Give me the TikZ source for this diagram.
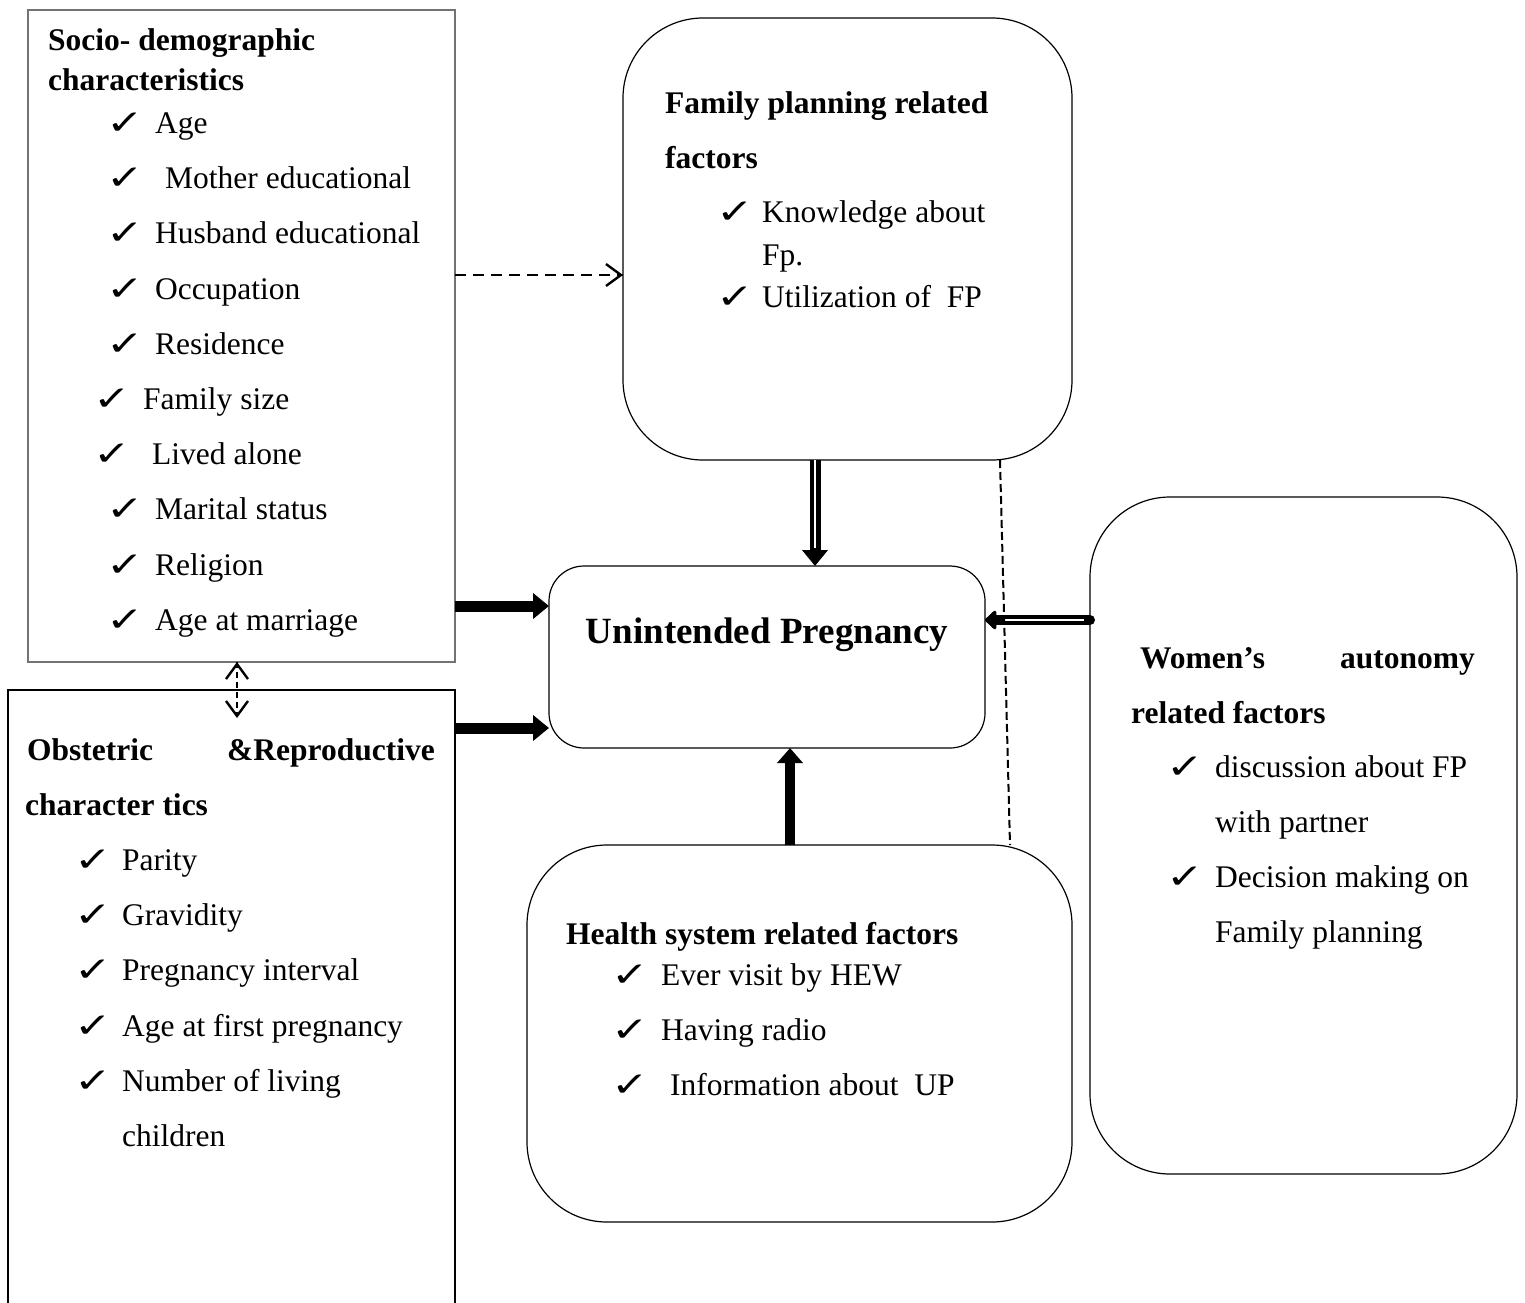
\documentclass[tikz,border=0pt]{standalone}
\usepackage{fontspec}
\setmainfont{Liberation Serif}
\newfontfamily\dejavu{DejaVu Sans}
\usetikzlibrary{arrows.meta,calc}
\tikzset{
  box/.style={draw=black, line width=1.2pt, inner sep=0pt, outer sep=0pt, anchor=north west},
  graybox/.style={box, draw=black!55},
  rbox/.style={box, rounded corners=80pt},
  txt/.style={anchor=base west, inner sep=0pt, font=\fontsize{31.5}{38}\selectfont},
  txte/.style={txt, anchor=base east},
  hd/.style={txt, font=\fontsize{31.5}{38}\selectfont\bfseries},
  hde/.style={hd, anchor=base east},
  ckm/.style={anchor=base west, inner sep=0pt, yshift=-1pt, font=\dejavu\fontsize{36}{42}\selectfont},
  thick arrow/.style={line width=11pt, -{Triangle[length=16pt,width=25pt]}},
  barb/.style={solid, line width=2.4pt, -{Straight Barb[length=15pt,width=22pt,line width=2.4pt]}},
}
\newcommand\itm[5]{\node[ckm] (#1c) at (#2-4,#4) {\scalebox{1.25}[0.95]{✓}}; \node[txt] (#1) at (#3,#4) {#5};}
\begin{document}
\begin{tikzpicture}[x=1pt,y=-1pt]
\clip (0,0) rectangle (1525,1302);
\fill[white] (0,0) rectangle (1525,1302);
% boxes
\node[graybox, minimum width=427pt, minimum height=652pt] (socio) at (28,10) {};
\node[box, minimum width=447pt, minimum height=700pt] (obst) at (8,690) {};
\node[rbox, minimum width=449pt, minimum height=442pt] (fp) at (623,18) {};
\node[box, rounded corners=35pt, minimum width=436pt, minimum height=182pt] (unint) at (549,566) {};
\node[rbox, minimum width=545pt, minimum height=377pt] (health) at (527,845) {};
\node[rbox, minimum width=427pt, minimum height=677pt] (women) at (1090,497) {};
% socio text
\node[hd] (s1) at (48,50) {Socio- demographic};
\node[hd] (s2) at (48,90) {characteristics};
\itm{a1}{110}{155}{133}{Age}
\itm{a2}{110}{165}{188}{Mother educational}
\itm{a3}{110}{155}{243}{Husband educational}
\itm{a4}{110}{155}{299}{Occupation}
\itm{a5}{110}{155}{354}{Residence}
\itm{a6}{97}{143}{409}{Family size}
\itm{a7}{97}{152}{464}{Lived alone}
\itm{a8}{110}{155}{519}{Marital status}
\itm{a9}{110}{155}{575}{Religion}
\itm{a10}{110}{155}{630}{Age at marriage}
% obstetric text
\node[hd] (o1) at (27,760) {Obstetric};
\node[hde] (o2) at (435,760) {\&Reproductive};
\node[hd] (o3) at (25,815) {character tics};
\itm{b1}{78}{122}{870}{Parity}
\itm{b2}{78}{122}{925}{Gravidity}
\itm{b3}{78}{122}{980}{Pregnancy interval}
\itm{b4}{78}{122}{1036}{Age at first pregnancy}
\itm{b5}{78}{122}{1091}{Number of living}
\node[txt] (b6) at (122,1146) {children};
% family planning text
\node[hd] (f1) at (665,113) {Family planning related};
\node[hd] (f2) at (665,168) {factors};
\itm{c1}{720}{762}{222}{Knowledge about}
\node[txt] (c2) at (762,265) {Fp.};
\itm{c3}{720}{762}{307}{Utilization of~ FP}
% unintended
\node[inner sep=0pt, font=\fontsize{37}{44}\selectfont\bfseries] (ut) at (767,635) {Unintended Pregnancy};
% health
\node[hd] (h1) at (566,944) {Health system related factors};
\itm{d1}{615}{661}{985}{Ever visit by HEW}
\itm{d2}{615}{661}{1040}{Having radio}
\itm{d3}{615}{670}{1095}{Information about~ UP}
% women
\node[hd] (w1) at (1140,668) {Women’s};
\node[hde] (w2) at (1475,668) {autonomy};
\node[hd] (w3) at (1131,723) {related factors};
\itm{e1}{1170}{1215}{777}{discussion about FP}
\node[txt] (e2) at (1215,832) {with partner};
\itm{e3}{1170}{1215}{887}{Decision making on}
\node[txt] (e4) at (1215,942) {Family planning};
% connectors
\coordinate (dA) at (socio.east |- 0,275);
\coordinate (dB) at (fp.west |- 0,275);
\draw[line width=2.4pt, dash pattern=on 11pt off 7pt] (dA) -- (dB);
\draw[barb] ($(dB)+(-2,0)$) -- (dB);
\coordinate (vA) at (socio.south -| 237,0);
\coordinate (vB) at (obst.north -| 237,0);
\draw[line width=2pt, dash pattern=on 6pt off 4pt] (vA) -- ($(vB)+(0,26)$);
\draw[barb] ($(vA)+(0,2)$) -- (vA);
\draw[barb] ($(vB)+(0,24)$) -- ($(vB)+(0,28)$);
\draw[thick arrow] (socio.east |- 0,606) -- (unint.west |- 0,606);
\draw[thick arrow] (obst.east |- 0,728) -- (unint.west |- 0,728);
\draw[line width=10pt, -{Triangle[length=15pt,width=25pt]}] (health.north -| 790,0) -- (unint.south -| 790,0);
% double arrow down
\draw[line width=11pt, -{Triangle[length=16pt,width=25pt]}] (fp.south -| 815,0) -- (unint.north -| 815,0);
\draw[white, line width=1.5pt] (fp.south -| 815,0) -- (815,548);
% double arrow left
\draw[line width=10pt, line cap=round, -{Triangle[round,length=12pt,width=22pt]}] (women.west |- 0,620) -- (unint.east |- 0,620);
\draw[white, line width=1.5pt] (1084,620) -- (1004,620);
% dashed line
\draw[line width=2pt, dash pattern=on 8pt off 4pt] (fp.south -| 1000,0) -- (health.north -| 1010,0);
\end{tikzpicture}
\end{document}
